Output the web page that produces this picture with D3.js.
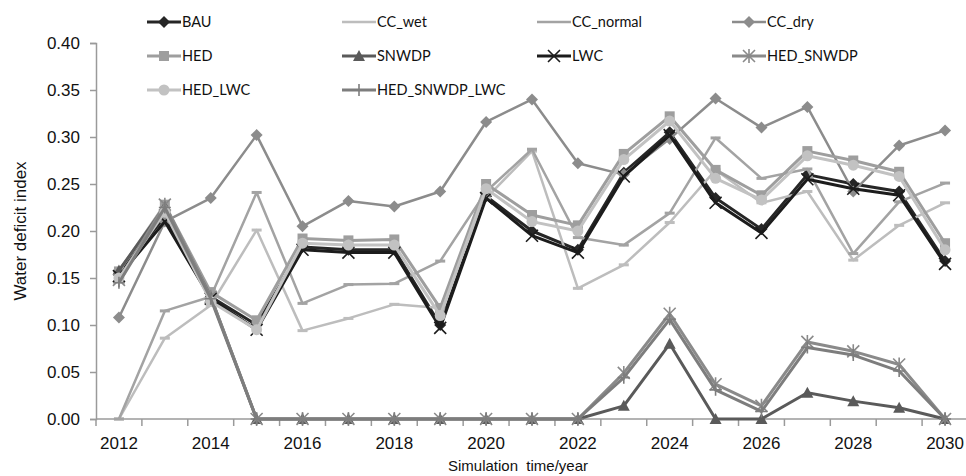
<!DOCTYPE html>
<html>
<head>
<meta charset="utf-8">
<script src="https://cdn.jsdelivr.net/npm/d3@7"></script>
<style>
  body { margin: 0; background: #fff; }
  svg { display: block; }
</style>
</head>
<body>
<div id="chart"></div>
<script>
// years on the x axis
const years = d3.range(2012, 2031);

const BAU = [0.155, 0.215, 0.130, 0.100, 0.183, 0.180, 0.180, 0.100, 0.237, 0.200, 0.180, 0.262, 0.305, 0.235, 0.202, 0.260, 0.250, 0.242, 0.168];
const CC_wet = [0.000, 0.086, 0.121, 0.201, 0.094, 0.107, 0.122, 0.118, 0.235, 0.285, 0.139, 0.164, 0.209, 0.265, 0.230, 0.242, 0.169, 0.206, 0.230];
const CC_normal = [0.000, 0.115, 0.130, 0.241, 0.123, 0.143, 0.144, 0.168, 0.242, 0.287, 0.193, 0.185, 0.219, 0.299, 0.256, 0.266, 0.176, 0.231, 0.251];
const CC_dry = [0.108, 0.210, 0.235, 0.302, 0.205, 0.232, 0.226, 0.242, 0.316, 0.340, 0.272, 0.260, 0.298, 0.341, 0.310, 0.332, 0.242, 0.291, 0.307];
const HED = [0.157, 0.228, 0.135, 0.105, 0.192, 0.190, 0.191, 0.118, 0.250, 0.217, 0.206, 0.282, 0.322, 0.265, 0.238, 0.285, 0.275, 0.263, 0.187];
const SNWDP = [0.158, 0.226, 0.130, 0.000, 0.000, 0.000, 0.000, 0.000, 0.000, 0.000, 0.000, 0.014, 0.080, 0.000, 0.000, 0.028, 0.019, 0.012, 0.000];
const LWC = [0.152, 0.210, 0.128, 0.095, 0.180, 0.177, 0.177, 0.097, 0.235, 0.195, 0.177, 0.258, 0.302, 0.230, 0.198, 0.255, 0.245, 0.238, 0.165];
const HED_SNWDP = [0.148, 0.228, 0.130, 0.000, 0.000, 0.000, 0.000, 0.000, 0.000, 0.000, 0.000, 0.049, 0.112, 0.037, 0.014, 0.082, 0.072, 0.058, 0.000];
const HED_LWC = [0.150, 0.220, 0.125, 0.095, 0.187, 0.185, 0.185, 0.110, 0.245, 0.210, 0.200, 0.276, 0.317, 0.256, 0.233, 0.280, 0.270, 0.258, 0.180];
const HED_SNWDP_LWC = [0.145, 0.225, 0.128, 0.000, 0.000, 0.000, 0.000, 0.000, 0.000, 0.000, 0.000, 0.044, 0.106, 0.031, 0.008, 0.076, 0.068, 0.051, 0.000];

const yTicks = [0, 0.05, 0.10, 0.15, 0.20, 0.25, 0.30, 0.35, 0.40];
const xTickYears = [2012, 2014, 2016, 2018, 2020, 2022, 2024, 2026, 2028, 2030];

const series = [
  { name: "BAU", values: BAU, color: "#262626", marker: "diamond", width: 3 },
  { name: "CC_wet", values: CC_wet, color: "#bdbdbd", marker: "dash", width: 2.5 },
  { name: "CC_normal", values: CC_normal, color: "#a3a3a3", marker: "dash", width: 2.5 },
  { name: "CC_dry", values: CC_dry, color: "#8c8c8c", marker: "diamond", width: 2.5 },
  { name: "HED", values: HED, color: "#9e9e9e", marker: "square", width: 3 },
  { name: "SNWDP", values: SNWDP, color: "#5a5a5a", marker: "triangle", width: 3 },
  { name: "LWC", values: LWC, color: "#1c1c1c", marker: "x", width: 3 },
  { name: "HED_SNWDP", values: HED_SNWDP, color: "#8a8a8a", marker: "star", width: 3 },
  { name: "HED_LWC", values: HED_LWC, color: "#c2c2c2", marker: "circle", width: 3 },
  { name: "HED_SNWDP_LWC", values: HED_SNWDP_LWC, color: "#7d7d7d", marker: "plus", width: 3 }
];

const width = 966, height = 476;
const plotLeft = 96, plotRight = 968, plotTop = 43, plotBottom = 419;

const svg = d3.select("#chart").append("svg")
  .attr("width", width)
  .attr("height", height);

const x = d3.scaleBand().domain(years).range([plotLeft, plotRight]).padding(0);
const y = d3.scaleLinear().domain([0, 0.40]).range([plotBottom, plotTop]);
const cx = d => x(d) + x.bandwidth() / 2;

// axes
const yAxis = svg.append("g")
  .attr("transform", `translate(${plotLeft},0)`)
  .call(d3.axisLeft(y).tickValues(yTicks).tickFormat(d3.format(".2f")).tickSize(6));
yAxis.select(".domain").attr("stroke", "#9a9a9a").attr("stroke-width", 1.5);
yAxis.selectAll(".tick line").attr("stroke", "#9a9a9a").attr("stroke-width", 1.5);
yAxis.selectAll(".tick text")
  .attr("x", -16)
  .style("font-family", "'Liberation Sans', Arial, sans-serif")
  .style("font-size", "17px")
  .attr("fill", "#111");

const xAxis = svg.append("g")
  .attr("transform", `translate(0,${plotBottom})`);
xAxis.append("line")
  .attr("x1", plotLeft).attr("x2", plotRight)
  .attr("stroke", "#9a9a9a").attr("stroke-width", 1.5);
xAxis.selectAll(".tk")
  .data(years)
  .enter().append("line")
  .attr("x1", d => x(d)).attr("x2", d => x(d))
  .attr("y1", 0).attr("y2", 7)
  .attr("stroke", "#9a9a9a").attr("stroke-width", 1.5);
xAxis.selectAll(".lbl")
  .data(xTickYears)
  .enter().append("text")
  .attr("x", d => cx(d))
  .attr("y", 30)
  .attr("text-anchor", "middle")
  .style("font-family", "'Liberation Sans', Arial, sans-serif")
  .style("font-size", "17px")
  .attr("fill", "#111")
  .text(d => d);

// axis titles
svg.append("text")
  .attr("transform", "translate(26,231) rotate(-90)")
  .attr("text-anchor", "middle")
  .style("font-family", "'Liberation Sans', Arial, sans-serif")
  .style("font-size", "17px")
  .attr("fill", "#111")
  .text("Water deficit index");

svg.append("text")
  .attr("x", 518)
  .attr("y", 471)
  .attr("text-anchor", "middle")
  .style("font-family", "'Liberation Sans', Arial, sans-serif")
  .style("font-size", "15px")
  .style("white-space", "pre")
  .attr("fill", "#111")
  .text("Simulation  time/year");

function drawMarker(g, type, color) {
  if (type === "diamond") {
    g.append("path").attr("d", "M0,-6L6,0L0,6L-6,0Z").attr("fill", color);
  } else if (type === "square") {
    g.append("rect").attr("x", -5).attr("y", -5).attr("width", 10).attr("height", 10).attr("fill", color);
  } else if (type === "triangle") {
    g.append("path").attr("d", "M0,-6L6,5L-6,5Z").attr("fill", color);
  } else if (type === "circle") {
    g.append("circle").attr("r", 5.5).attr("fill", color);
  } else if (type === "x") {
    g.append("path").attr("d", "M-6,-6L6,6M-6,6L6,-6").attr("stroke", color).attr("stroke-width", 1.6);
  } else if (type === "star") {
    g.append("path").attr("d", "M-6,-6L6,6M-6,6L6,-6M0,-7L0,7").attr("stroke", color).attr("stroke-width", 1.6);
  } else if (type === "plus") {
    g.append("path").attr("d", "M0,-6L0,6M-6,0L6,0").attr("stroke", color).attr("stroke-width", 1.6);
  } else if (type === "dash") {
    g.append("rect").attr("x", -5).attr("y", -1.5).attr("width", 10).attr("height", 3).attr("fill", color);
  }
}

const line = d3.line()
  .x((d, i) => cx(years[i]))
  .y(d => y(d));

const plot = svg.append("g");
series.forEach(s => {
  const g = plot.append("g");
  g.append("path")
    .datum(s.values)
    .attr("d", line)
    .attr("fill", "none")
    .attr("stroke", s.color)
    .attr("stroke-width", s.width)
    .attr("stroke-linejoin", "round");
  s.values.forEach((v, i) => {
    const m = g.append("g").attr("transform", `translate(${cx(years[i])},${y(v)})`);
    drawMarker(m, s.marker, s.color);
  });
});

// legend, 4 columns
const legend = svg.append("g");
series.forEach((s, i) => {
  const col = i % 4, row = Math.floor(i / 4);
  const lx = 147 + col * 195, ly = 22 + row * 34;
  const g = legend.append("g").attr("transform", `translate(${lx},${ly})`);
  g.append("line").attr("x1", 0).attr("x2", 34).attr("stroke", s.color).attr("stroke-width", s.width);
  const m = g.append("g").attr("transform", "translate(17,0)");
  drawMarker(m, s.marker === "dash" ? "none" : s.marker, s.color);
  g.append("text")
    .attr("x", 35)
    .attr("y", 5)
    .style("font-family", "Lato, 'Open Sans', sans-serif")
    .style("font-size", "14.5px")
    .attr("fill", "#111")
    .text(s.name);
});
</script>
</body>
</html>
